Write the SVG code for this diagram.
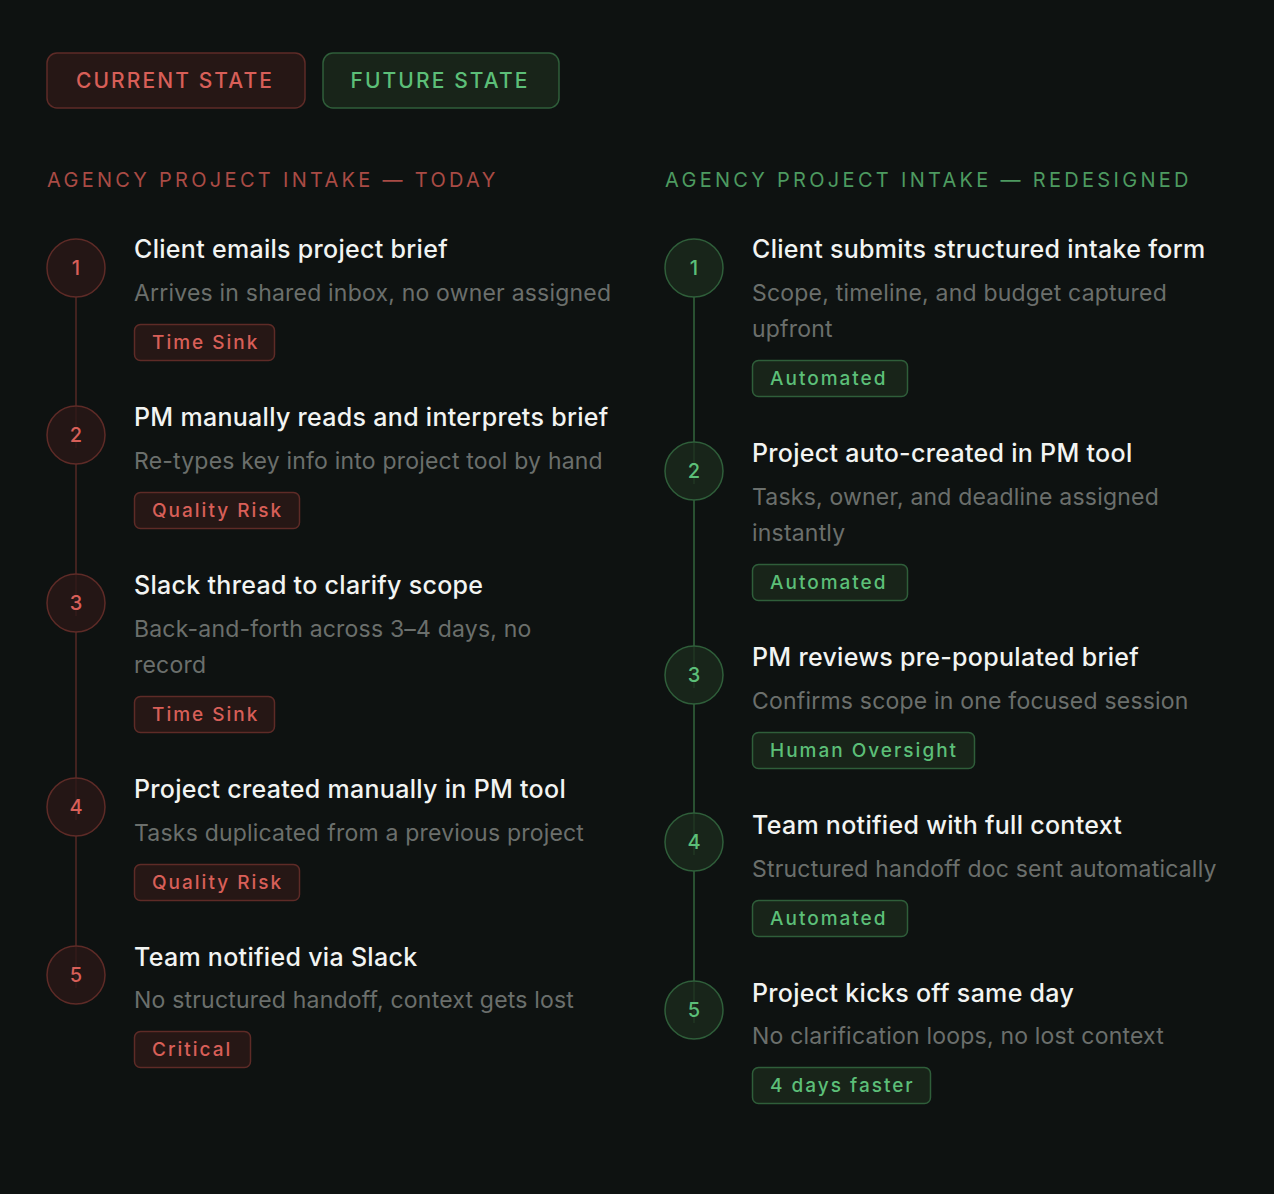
<svg xmlns="http://www.w3.org/2000/svg" width="1274" height="1194" viewBox="0 0 1274 1194">
<style>
text{font-family:Inter,"Liberation Sans",sans-serif}
.title{font-size:25px;font-weight:500;fill:#f2f4f2;letter-spacing:0.3px}
.desc{font-size:23px;fill:#6b6f6c;letter-spacing:0.2px}
.btn{font-size:21px;font-weight:500;letter-spacing:2.1px}
.sec{font-size:20px;letter-spacing:3.3px}
.tag{font-size:19px;font-weight:500;letter-spacing:2px}
.num{font-size:20px;font-weight:500;text-anchor:middle}
.r .fill{fill:#261715;stroke:#5e2b27;stroke-width:1.5}
.g .fill{fill:#182419;stroke:#2f5e3a;stroke-width:1.5}
.r circle.fill{fill:#2b1816;fill-opacity:0.8}
.g circle.fill{fill:#1b2a1d;fill-opacity:0.8}
.rt{fill:#d85f58}
.gt{fill:#5cbf78}
</style>
<rect width="1274" height="1194" fill="#0e1211"/>
<g id="header">
<g id="btn-current" class="r"><rect class="fill" x="47" y="53" width="258" height="55" rx="10"/><text class="btn rt" x="175" y="88" text-anchor="middle">CURRENT STATE</text></g>
<g id="btn-future" class="g"><rect class="fill" x="323" y="53" width="236" height="55" rx="10"/><text class="btn gt" x="440" y="88" text-anchor="middle">FUTURE STATE</text></g>
<text id="sec-left" class="sec" x="47" y="187" fill="#a94b45">AGENCY PROJECT INTAKE — TODAY</text>
<text id="sec-right" class="sec" x="665" y="187" fill="#4d9a60">AGENCY PROJECT INTAKE — REDESIGNED</text>
</g>
<g id="connectors" stroke-width="1.5">
<g stroke="#552925">
<line x1="76" y1="297" x2="76" y2="448"/>
<line x1="76" y1="464" x2="76" y2="616"/>
<line x1="76" y1="632" x2="76" y2="820"/>
<line x1="76" y1="836" x2="76" y2="988"/>
</g>
<g stroke="#33663d">
<line x1="694" y1="297" x2="694" y2="484"/>
<line x1="694" y1="500" x2="694" y2="688"/>
<line x1="694" y1="704" x2="694" y2="855"/>
<line x1="694" y1="871" x2="694" y2="1023"/>
</g>
</g>
<g id="left-steps" class="r">
<g id="l1"><circle class="fill" cx="76" cy="268" r="29"/><text class="num rt" x="76" y="275">1</text>
<text class="title" x="134" y="258">Client emails project brief</text>
<text class="desc" x="134" y="301">Arrives in shared inbox, no owner assigned</text>
<rect class="fill" x="134.5" y="324.5" width="140" height="36" rx="6"/><text class="tag rt" x="152" y="349">Time Sink</text></g>
<g id="l2"><circle class="fill" cx="76" cy="435" r="29"/><text class="num rt" x="76" y="442">2</text>
<text class="title" x="134" y="426">PM manually reads and interprets brief</text>
<text class="desc" x="134" y="469">Re-types key info into project tool by hand</text>
<rect class="fill" x="134.5" y="492.5" width="165" height="36" rx="6"/><text class="tag rt" x="152" y="517">Quality Risk</text></g>
<g id="l3"><circle class="fill" cx="76" cy="603" r="29"/><text class="num rt" x="76" y="610">3</text>
<text class="title" x="134" y="594">Slack thread to clarify scope</text>
<text class="desc" x="134" y="637">Back-and-forth across 3–4 days, no</text>
<text class="desc" x="134" y="673">record</text>
<rect class="fill" x="134.5" y="696.5" width="140" height="36" rx="6"/><text class="tag rt" x="152" y="721">Time Sink</text></g>
<g id="l4"><circle class="fill" cx="76" cy="807" r="29"/><text class="num rt" x="76" y="814">4</text>
<text class="title" x="134" y="798">Project created manually in PM tool</text>
<text class="desc" x="134" y="841">Tasks duplicated from a previous project</text>
<rect class="fill" x="134.5" y="864.5" width="165" height="36" rx="6"/><text class="tag rt" x="152" y="889">Quality Risk</text></g>
<g id="l5"><circle class="fill" cx="76" cy="975" r="29"/><text class="num rt" x="76" y="982">5</text>
<text class="title" x="134" y="966">Team notified via Slack</text>
<text class="desc" x="134" y="1008">No structured handoff, context gets lost</text>
<rect class="fill" x="134.5" y="1031.5" width="116" height="36" rx="6"/><text class="tag rt" x="152" y="1056">Critical</text></g>
</g>
<g id="right-steps" class="g">
<g id="r1"><circle class="fill" cx="694" cy="268" r="29"/><text class="num gt" x="694" y="275">1</text>
<text class="title" x="752" y="258">Client submits structured intake form</text>
<text class="desc" x="752" y="301">Scope, timeline, and budget captured</text>
<text class="desc" x="752" y="337">upfront</text>
<rect class="fill" x="752.5" y="360.5" width="155" height="36" rx="6"/><text class="tag gt" x="770" y="385">Automated</text></g>
<g id="r2"><circle class="fill" cx="694" cy="471" r="29"/><text class="num gt" x="694" y="478">2</text>
<text class="title" x="752" y="462">Project auto-created in PM tool</text>
<text class="desc" x="752" y="505">Tasks, owner, and deadline assigned</text>
<text class="desc" x="752" y="541">instantly</text>
<rect class="fill" x="752.5" y="564.5" width="155" height="36" rx="6"/><text class="tag gt" x="770" y="589">Automated</text></g>
<g id="r3"><circle class="fill" cx="694" cy="675" r="29"/><text class="num gt" x="694" y="682">3</text>
<text class="title" x="752" y="666">PM reviews pre-populated brief</text>
<text class="desc" x="752" y="709">Confirms scope in one focused session</text>
<rect class="fill" x="752.5" y="732.5" width="222" height="36" rx="6"/><text class="tag gt" x="770" y="757">Human Oversight</text></g>
<g id="r4"><circle class="fill" cx="694" cy="842" r="29"/><text class="num gt" x="694" y="849">4</text>
<text class="title" x="752" y="834">Team notified with full context</text>
<text class="desc" x="752" y="877">Structured handoff doc sent automatically</text>
<rect class="fill" x="752.5" y="900.5" width="155" height="36" rx="6"/><text class="tag gt" x="770" y="925">Automated</text></g>
<g id="r5"><circle class="fill" cx="694" cy="1010" r="29"/><text class="num gt" x="694" y="1017">5</text>
<text class="title" x="752" y="1002">Project kicks off same day</text>
<text class="desc" x="752" y="1044">No clarification loops, no lost context</text>
<rect class="fill" x="752.5" y="1067.5" width="178" height="36" rx="6"/><text class="tag gt" x="770" y="1092">4 days faster</text></g>
</g>
</svg>
